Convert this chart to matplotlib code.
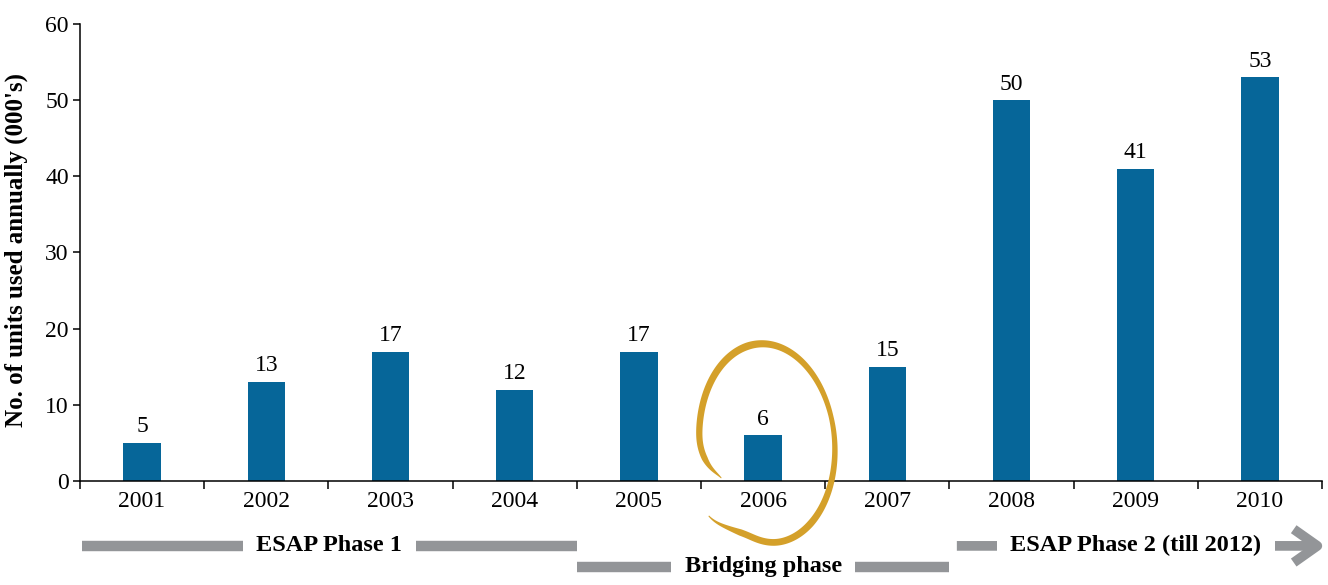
import numpy as np
import matplotlib
matplotlib.use('Agg')
import matplotlib.pyplot as plt
import matplotlib.transforms as mtransforms
from matplotlib.patches import Polygon

plt.rcParams['font.family'] = ['Liberation Serif', 'DejaVu Serif']

# Annual units used (thousands)
years = ['2001', '2002', '2003', '2004', '2005', '2006', '2007', '2008', '2009', '2010']
units = [5, 13, 17, 12, 17, 6, 15, 50, 41, 53]

# Programme phases shown under the year axis
phase_names = ['ESAP Phase 1', 'Bridging phase', 'ESAP Phase 2 (till 2012)']
phase_first = ['2001', '2005', '2008']
phase_last = ['2004', '2007', '2010']
phase_row = [0, 1, 0]

bar_color = '#066699'
phase_color = '#939598'
ring_color = '#D4A02A'

fig = plt.figure(figsize=(13.28, 5.85), dpi=100)
ax = fig.add_axes([0.0602, 0.1778, 0.9353, 0.7812])

x = np.arange(len(years))
ax.bar(x, units, width=0.3, color=bar_color, zorder=2)
for xi, v in zip(x, units):
    ax.annotate(f'{v}', (xi, v), xytext=(0, 4), textcoords='offset points',
                ha='center', va='bottom', fontsize=17)

ax.set_xlim(-0.5, len(years) - 0.5)
ax.set_ylim(0, 60)
ax.set_yticks(range(0, 61, 10))
ax.set_xticks(x)
ax.set_xticklabels(years)
ax.set_xticks(np.arange(-0.5, len(years)), minor=True)
ax.tick_params(axis='x', which='major', length=0, pad=7, labelsize=17)
ax.tick_params(axis='x', which='minor', length=6, width=1.1, direction='out')
ax.tick_params(axis='y', length=5, width=1.1, direction='out', pad=3, labelsize=17)
for side in ['top', 'right']:
    ax.spines[side].set_visible(False)
for side in ['left', 'bottom']:
    ax.spines[side].set_linewidth(1.1)

ax.set_ylabel("No. of units used annually (000's)", fontsize=18, fontweight='bold')
ax.yaxis.set_label_coords(-0.042, 0.505)

# phase bands: x in data units, y in axes fraction
trans = mtransforms.blended_transform_factory(ax.transData, ax.transAxes)
row_y = [-0.142, -0.188]
for i, name in enumerate(phase_names):
    x0 = years.index(phase_first[i]) - 0.5
    x1 = years.index(phase_last[i]) + 0.5
    y = row_y[phase_row[i]]
    if i == 0:
        x0 += 0.015
    if i == len(phase_names) - 1:
        ax.annotate('', xy=(x1 + 0.03, y), xytext=(x0 + 0.06, y), xycoords=trans,
                    arrowprops=dict(arrowstyle='->,head_length=0.85,head_width=0.6',
                                    lw=7, color=phase_color, shrinkA=0, shrinkB=0,
                                    mutation_scale=20, capstyle='butt'),
                    annotation_clip=False, zorder=3)
    else:
        ax.plot([x0, x1], [y, y], transform=trans, color=phase_color, lw=7.5,
                solid_capstyle='butt', clip_on=False, zorder=3)
    ax.text((x0 + x1) / 2, y, name, transform=trans, ha='center', va='center',
            fontsize=17.5, fontweight='bold', zorder=4,
            bbox=dict(boxstyle='square,pad=0.55', fc='white', ec='none'))

# hand-drawn ring around the 2006 bar, built in pixel offsets
deg = np.linspace(203.6, -144.4, 400)
r = np.interp(-deg, -np.array([203.6, 192, 178, -90, -116, -130, -144.4]),
              [0.75, 0.9, 0.99, 1.0, 0.98, 1.05, 1.18])
k = np.exp(-0.5 * (np.arange(-15, 16) / 6.0) ** 2)
k /= k.sum()
r = np.convolve(np.pad(r, 15, mode='edge'), k, mode='valid')
theta = np.radians(deg)
t = np.linspace(0, 1, deg.size)
px = 68 * r * np.cos(theta)
py = 100 * r * np.sin(theta)
rot = np.radians(5)
px, py = px * np.cos(rot) - py * np.sin(rot), px * np.sin(rot) + py * np.cos(rot)
dx, dy = np.gradient(px), np.gradient(py)
nrm = np.hypot(dx, dy)
nx, ny = -dy / nrm, dx / nrm
w = np.interp(t, [0, 0.05, 0.3, 0.55, 0.75, 0.93, 1.0], [0.8, 6.0, 7.5, 4.8, 7.0, 6.5, 1.0])
outer = np.column_stack([px + nx * w / 2, py + ny * w / 2])
inner = np.column_stack([px - nx * w / 2, py - ny * w / 2])
ring = np.vstack([outer, inner[::-1]]) / fig.dpi
ring_trans = fig.dpi_scale_trans + mtransforms.ScaledTranslation(
    years.index('2006') + 0.03, 5.0, ax.transData)
ax.add_patch(Polygon(ring, closed=True, fc=ring_color, ec='none',
                     transform=ring_trans, clip_on=False, zorder=5))

fig.savefig('out.png', dpi=100)
